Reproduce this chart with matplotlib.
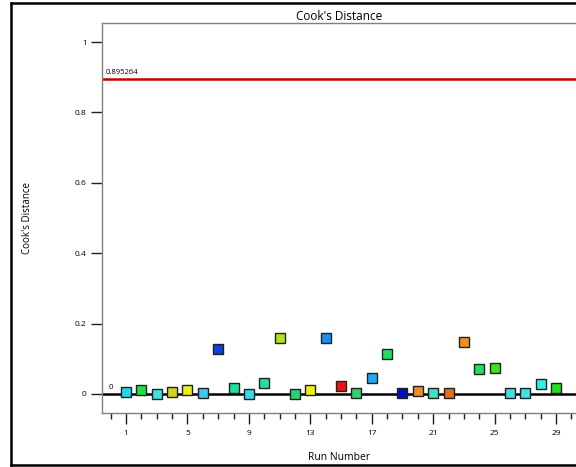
import matplotlib
matplotlib.use("Agg")
import matplotlib.pyplot as plt
from matplotlib.lines import Line2D
from matplotlib.ticker import MultipleLocator, FixedLocator

plt.rcParams['font.family'] = ['Open Sans', 'DejaVu Sans']

# Cook's distance per run
runs = list(range(1, 30))
cooks = [0.006, 0.011, 0.001, 0.006, 0.011, 0.002, 0.128, 0.016, 0.001, 0.030,
         0.158, 0.001, 0.011, 0.160, 0.022, 0.002, 0.045, 0.115, 0.003, 0.009,
         0.002, 0.003, 0.149, 0.072, 0.075, 0.002, 0.002, 0.027, 0.017]
colors = ['#25d4e6', '#22dd44', '#3ee0e0', '#d4d420', '#eeee22', '#3ccbe8',
          '#1040e0', '#20e0a0', '#40d8e8', '#20e0a0', '#b4e020', '#30d070',
          '#f2f010', '#1890f0', '#ee1010', '#30d070', '#20a8f0', '#20e060',
          '#0010c0', '#f09020', '#40e0c8', '#e07020', '#f09020', '#20e060',
          '#40e020', '#40e0e0', '#40e0e0', '#30f0e8', '#20e020']
limit = 0.895264
x_ticks = [1, 5, 9, 13, 17, 21, 25, 29]
y_ticks = [0, 0.2, 0.4, 0.6, 0.8, 1]
y_tick_labels = ['0', '0.2', '0.4', '0.6', '0.8', '1']

W, H = 576, 467
fig = plt.figure(figsize=(W / 100, H / 100), dpi=100)
ax = fig.add_axes([102 / W, (H - 413) / H, (W - 102) / W, (413 - 23) / H])

ax.set_xlim(-0.563, 30.3)
ax.set_ylim(-0.054, 1.054)

# reference lines
ax.axhline(limit, color='#c80000', lw=1.8, zorder=2)
ax.axhline(0, color='black', lw=1.8, zorder=2)
ax.text(-0.35, limit + 0.008, '%g' % limit, fontsize=5.5, ha='left', va='bottom')
ax.text(-0.15, 0.008, '0', fontsize=5.5, ha='left', va='bottom')

for r, c, col in zip(runs, cooks, colors):
    ax.plot(r, c, marker='s', ms=6.8, mfc=col, mec='#202020', mew=1.0,
            linestyle='none', zorder=3)

for side in ['top', 'left', 'bottom']:
    ax.spines[side].set_color('#808080')
    ax.spines[side].set_linewidth(1.0)
ax.spines['right'].set_visible(False)

ax.xaxis.set_major_locator(FixedLocator(x_ticks))
ax.xaxis.set_minor_locator(MultipleLocator(1))
ax.set_yticks(y_ticks)
ax.set_yticklabels(y_tick_labels)
ax.tick_params(axis='x', which='major', length=8, width=1.0, color='#202020',
               labelsize=6, pad=4)
ax.tick_params(axis='x', which='minor', length=4.5, width=1.0, color='#202020')
ax.tick_params(axis='y', which='major', length=8, width=1.0, color='#202020',
               labelsize=6, pad=3)

ax.set_title("Cook's Distance", fontsize=8.5, pad=2)
ax.set_ylabel("Cook's Distance", fontsize=7, labelpad=30)
ax.set_xlabel("Run Number", fontsize=7.5, labelpad=11)

# outer frame
lw = 1.8
fig.add_artist(Line2D([11 / W, 11 / W], [2 / H, 1 - 3 / H], color='black', lw=lw))
fig.add_artist(Line2D([11 / W, 1], [1 - 3 / H, 1 - 3 / H], color='black', lw=lw))
fig.add_artist(Line2D([11 / W, 1], [2 / H, 2 / H], color='black', lw=lw))

fig.savefig('out.png', dpi=100)
